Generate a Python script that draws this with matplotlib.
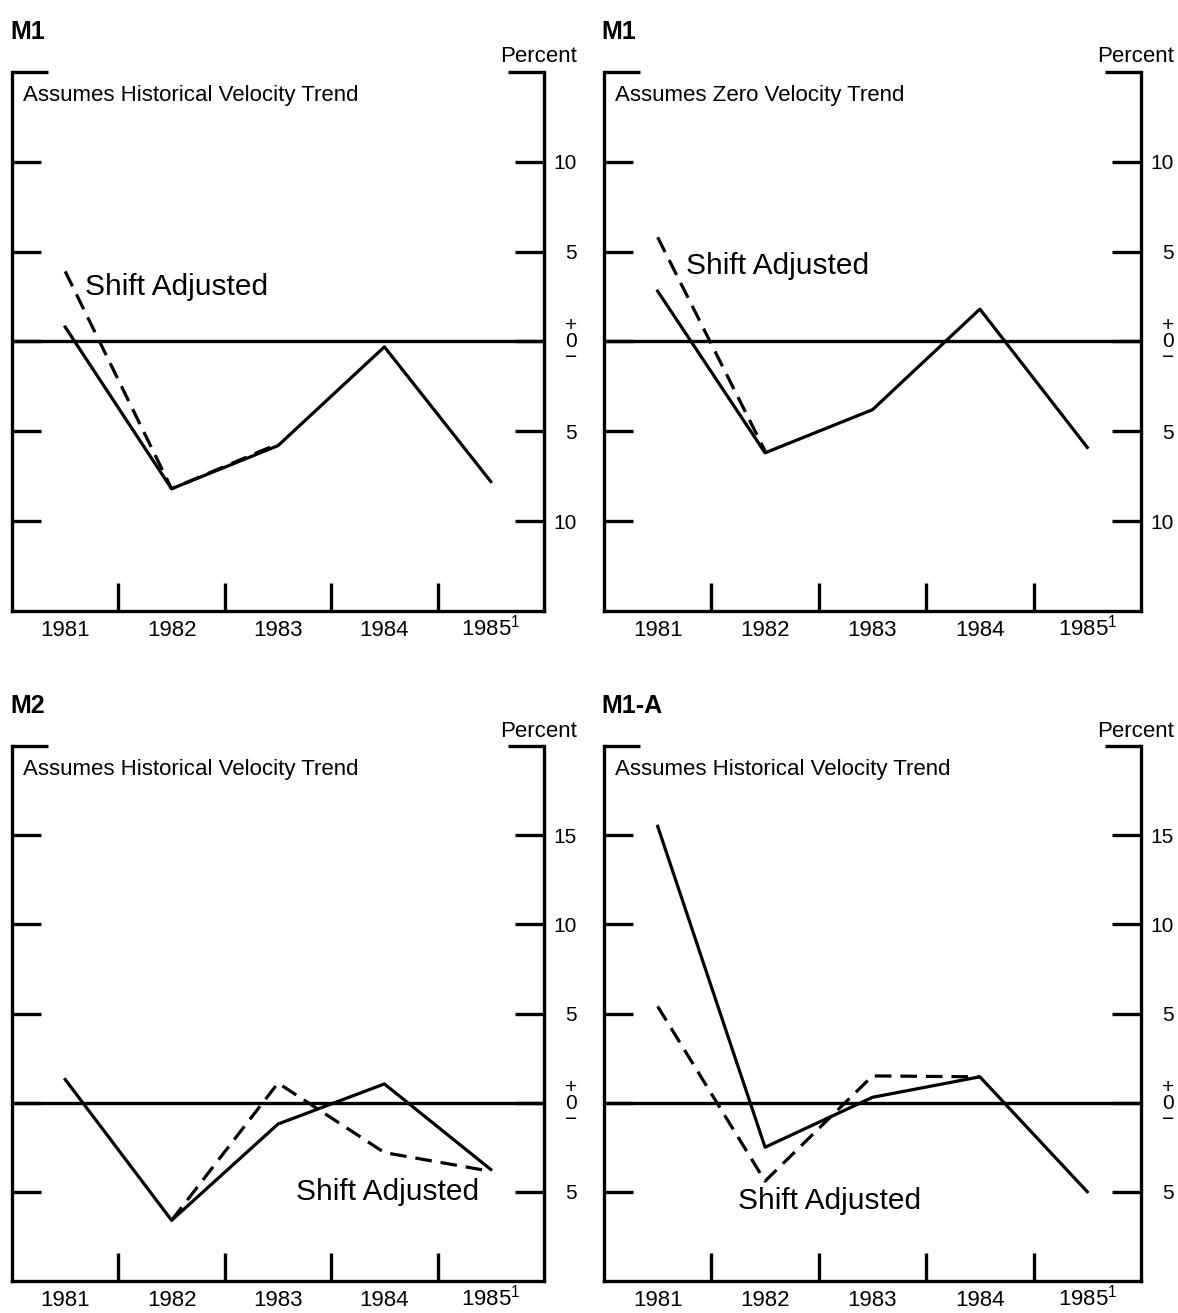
import numpy as np
import matplotlib
matplotlib.use("Agg")
import matplotlib.pyplot as plt
from matplotlib.ticker import FixedLocator

plt.rcParams['font.family'] = ['Liberation Sans', 'DejaVu Sans']
plt.rcParams['mathtext.default'] = 'regular'

years = ['1981', '1982', '1983', '1984', '1985$^{1}$']

# M1, historical velocity trend
m1_hist_total = [0.8, -8.2, -5.8, -0.3, -7.8]
m1_hist_shift = [3.9, -8.2, -5.7]
# M1, zero velocity trend
m1_zero_total = [2.8, -6.2, -3.8, 1.8, -5.9]
m1_zero_shift = [5.8, -6.1]
# M2, historical velocity trend (shift adjusted starts in 1982)
m2_total = [1.3, -6.6, -1.2, 1.05, -3.75]
m2_shift = [-6.6, 1.1, -2.8, -3.85]
# M1-A, historical velocity trend
m1a_total = [15.5, -2.5, 0.3, 1.45, -5.0]
m1a_shift = [5.4, -4.4, 1.5, 1.45]

LW = 2.4
PX = 72 / 100  # points per pixel at dpi 100


def draw_panel(ax, title, note, total, shift, shift_start, ylim, yticks, label_xy):
    x = np.arange(len(years))
    ax.axhline(0, color='black', lw=LW)
    ax.plot(x, total, color='black', lw=2.3)
    xs = x[shift_start:shift_start + len(shift)]
    ax.plot(xs, shift, color='black', lw=2.3, dashes=(5.2, 2.8))

    ax.set_xlim(-0.5, len(years) - 0.5)
    ax.set_ylim(*ylim)

    for s in ['left', 'right', 'bottom']:
        ax.spines[s].set_linewidth(LW)
    ax.spines['top'].set_visible(False)

    # year boundaries as ticks, year names as minor labels
    ax.xaxis.set_major_locator(FixedLocator(x[:-1] + 0.5))
    ax.xaxis.set_minor_locator(FixedLocator(x))
    ax.set_xticklabels([], minor=False)
    ax.set_xticklabels(years, minor=True, fontsize=16)
    ax.tick_params(axis='x', which='major', direction='in', length=28 * PX, width=LW)
    ax.tick_params(axis='x', which='minor', length=0, pad=25 * PX)
    for lbl in ax.xaxis.get_ticklabels(minor=True):
        lbl.set_verticalalignment('baseline')

    ax.yaxis.set_major_locator(FixedLocator(yticks))
    ax.yaxis.set_minor_locator(FixedLocator([ylim[1]]))
    labels = []
    for v in yticks:
        if v == 0:
            labels.append('+\n0\n\u2212')
        else:
            labels.append(str(abs(v)))
    ax.set_yticklabels(labels, fontsize=15)
    ax.tick_params(axis='y', which='both', left=True, right=True, direction='in',
                   width=LW, labelleft=False, labelright=True)
    ax.tick_params(axis='y', which='major', length=29 * PX, pad=33 * PX)
    ax.tick_params(axis='y', which='minor', length=36 * PX)
    for lbl in ax.yaxis.get_ticklabels():
        lbl.set_horizontalalignment('right')
        lbl.set_linespacing(0.8)

    ax.text(-0.004, 1.075, title, transform=ax.transAxes, fontsize=18,
            fontweight='bold', ha='left', va='center')
    ax.text(1.062, 1.028, 'Percent', transform=ax.transAxes, fontsize=16,
            ha='right', va='center')
    ax.text(0.02, 0.957, note, transform=ax.transAxes, fontsize=16,
            ha='left', va='center')
    ax.text(label_xy[0], label_xy[1], 'Shift Adjusted', fontsize=21.5,
            ha='left', va='center')


fig = plt.figure(figsize=(11.78, 13.13), dpi=100)
ax1 = fig.add_axes([0.0102, 0.5347, 0.4516, 0.4105])
ax2 = fig.add_axes([0.5127, 0.5347, 0.4559, 0.4105])
ax3 = fig.add_axes([0.0102, 0.0244, 0.4516, 0.4074])
ax4 = fig.add_axes([0.5127, 0.0244, 0.4559, 0.4074])

draw_panel(ax1, 'M1', 'Assumes Historical Velocity Trend', m1_hist_total,
           m1_hist_shift, 0, (-15, 15), [-10, -5, 0, 5, 10], (0.19, 3.05))
draw_panel(ax2, 'M1', 'Assumes Zero Velocity Trend', m1_zero_total,
           m1_zero_shift, 0, (-15, 15), [-10, -5, 0, 5, 10], (0.26, 4.2))
draw_panel(ax3, 'M2', 'Assumes Historical Velocity Trend', m2_total,
           m2_shift, 1, (-10, 20), [-5, 0, 5, 10, 15], (2.17, -5.0))
draw_panel(ax4, 'M1-A', 'Assumes Historical Velocity Trend', m1a_total,
           m1a_shift, 0, (-10, 20), [-5, 0, 5, 10, 15], (0.75, -5.5))

fig.savefig('out.png', dpi=100, facecolor='white')
